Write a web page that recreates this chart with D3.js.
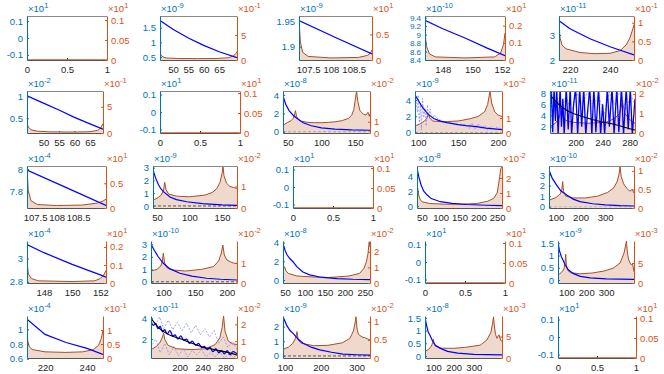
<!DOCTYPE html>
<html>
<head>
<meta charset="utf-8">
<script src="https://cdn.jsdelivr.net/npm/d3@7"></script>
<style>
  body { margin: 0; background: #fff; }
  svg { display: block; }
</style>
</head>
<body>
<svg id="chart"></svg>
<script>
// ---- data (values in tick-label units) ----

// x ticks, one list per panel (row by row)
const xTicks = [
  [0, 0.5, 1], [50, 55, 60, 65], [107.5, 108, 108.5], [148, 150, 152], [220, 240],
  [50, 55, 60, 65], [0, 0.5, 1], [50, 100, 150], [100, 150, 200], [200, 240, 280],
  [107.5, 108, 108.5], [50, 100, 150], [0, 0.5, 1], [50, 100, 150, 200, 250], [100, 200, 300],
  [148, 150, 152], [100, 150, 200], [50, 100, 150, 200, 250], [0, 0.5, 1], [100, 200, 300],
  [220, 240], [200, 240, 280], [100, 200, 300], [100, 200, 300], [0, 0.5, 1],
];
const xDomains = [
  [0, 1], [45.8, 70.8], [107.3, 108.9], [146.8, 152.2], [214.5, 252],
  [44.7, 69.2], [0, 1], [43, 172], [96, 205], [162, 288],
  [107.31, 109.15], [44, 173], [0, 1], [37, 263], [72, 417],
  [146.8, 152.4], [80.6, 216], [45, 263], [0, 1], [58, 440],
  [211.4, 247.6], [150, 300], [95, 337], [58, 440], [0, 1],
];

// left (blue) axis
const leftTicks = [
  [-0.1, 0, 0.1], [0.5, 1, 1.5], [1.9, 1.95], [8.4, 8.6, 8.8, 9, 9.2, 9.4], [2, 3],
  [0.5, 1], [-0.1, 0, 0.1], [0, 2, 4], [0, 2, 4], [2, 4, 6, 8],
  [7.8, 8], [0, 1, 2, 3], [-0.1, 0, 0.1], [0, 2, 4], [0, 1, 2, 3],
  [2.8, 3], [0, 1, 2, 3], [0, 2, 4], [-0.1, 0, 0.1], [0, 0.5, 1, 1.5],
  [0.6, 0.8, 1], [2, 4], [0, 1, 2], [0, 0.5, 1, 1.5], [-0.1, 0, 0.1],
];
const leftDomains = [
  [-0.13, 0.13], [0.4, 1.9], [1.874, 1.96], [8.4, 9.44], [2, 3.76],
  [0.16, 1.13], [-0.12, 0.12], [-0.14, 4.44], [-0.05, 5.1], [0.85, 8.4],
  [7.657, 8.026], [-0.16, 3.13], [-0.12, 0.12], [-0.27, 5.4], [-0.12, 3.85],
  [2.79, 3.15], [-0.1, 3.26], [-0.32, 4.18], [-0.12, 0.12], [-0.12, 1.59],
  [0.61, 1.18], [0.2, 4.2], [-0.14, 2.72], [-0.08, 1.58], [-0.12, 0.12],
];
const leftExp = [1, -9, -9, -10, -11, -2, 1, -8, -9, -11, -4, -9, 1, -8, -10, -4, -10, -8, 1, -9, -4, -11, -9, -8, 1];

// right (orange) axis
const rightTicks = [
  [0, 0.05, 0.1], [0, 5], [0, 0.5], [0, 0.1, 0.2], [0, 0.5, 1],
  [0, 5], [0, 0.05, 0.1], [0, 1], [0, 1], [0, 1, 2],
  [0, 0.5], [0, 1], [0, 0.05, 0.1], [0, 1, 2], [0, 0.5, 1],
  [0, 0.1, 0.2], [0, 1], [0, 1, 2], [0, 0.05, 0.1], [0, 5],
  [0, 0.5, 1], [0, 1, 2], [0, 0.5, 1], [0, 5], [0, 0.05, 0.1],
];
const rightDomains = [
  [0, 0.11], [0, 8.8], [0, 0.86], [0, 0.256], [0, 1.18],
  [0, 8], [0, 0.105], [0, 3.75], [0, 2.8], [0, 2.15],
  [0, 0.85], [0, 1.95], [0, 0.105], [0, 2.8], [0, 1.13],
  [0, 0.233], [0, 2.1], [0, 2.7], [0, 0.105], [0, 10.5],
  [0, 1.5], [0, 2.5], [0, 1.16], [0, 9.8], [0, 0.105],
];
const rightExp = [1, -1, 1, 1, -1, -1, 1, -2, -2, -2, 1, -2, 1, -2, -2, 1, -2, -2, 1, -3, -1, -2, -2, -3, 1];

// curves: [x, value]
const p2Blue = [[45.8, 1.75], [50, 1.45], [55, 1.15], [60, 0.9], [65, 0.68], [70.8, 0.48]];
const p2Area = [[45.8, 1.4], [46.2, 0.9], [47, 0.55], [48, 0.4], [52, 0.3], [58, 0.28], [64, 0.3], [68, 0.45], [69.6, 0.8], [70.4, 1.3], [70.8, 1.7]];
const p3Blue = [[107.3, 1.951], [108.1, 1.918], [108.9, 1.886]];
const p3Area = [[107.3, 0.8], [107.33, 0.35], [107.38, 0.15], [107.5, 0.07], [108, 0.04], [108.6, 0.05], [108.8, 0.09], [108.87, 0.14], [108.9, 0.2]];
const p4Blue = [[146.8, 9.34], [148, 9.14], [149.5, 8.92], [151, 8.68], [152.2, 8.5]];
const p4Area = [[146.8, 0.165], [146.9, 0.08], [147.1, 0.035], [147.5, 0.018], [149.5, 0.012], [151.5, 0.018], [151.9, 0.04], [152.1, 0.09], [152.2, 0.157]];
const p5Blue = [[214.5, 3.57], [220, 3.25], [230, 2.85], [240, 2.53], [252, 2.2]];
const p5Area = [[214.5, 1.0], [215, 0.6], [216, 0.4], [218, 0.3], [225, 0.2], [232, 0.17], [240, 0.18], [245, 0.25], [248, 0.4], [250, 0.6], [251.5, 0.85], [252, 0.95]];

const p6Blue = [[44.7, 1.02], [50, 0.85], [55, 0.69], [60, 0.52], [65, 0.37], [69.2, 0.25]];
const p6Area = [[44.7, 1.8], [45.2, 1.1], [46, 0.6], [48, 0.35], [52, 0.22], [60, 0.18], [65, 0.25], [67.5, 0.5], [68.5, 1.0], [69.2, 1.8]];
const p8Blue = [[43, 3.9], [47, 3.0], [52, 2.3], [58, 1.8], [63, 1.5], [73, 0.97], [85, 0.65], [100, 0.42], [120, 0.28], [145, 0.2], [172, 0.16]];
const p8Area = [[43, 0.7], [50, 0.95], [55, 1.1], [58, 1.3], [60, 1.6], [61.5, 2.0], [63, 1.5], [66, 1.2], [70, 1.05], [80, 0.95], [90, 0.92], [100, 0.92], [110, 0.95], [120, 1.0], [130, 1.1], [140, 1.3], [145, 1.6], [148, 2.1], [150, 2.9], [152, 3.75], [154, 2.8], [157, 2.0], [162, 1.7], [166, 1.6], [169, 1.85], [171, 1.5], [172, 1.7]];
const p9Blue = [[96, 4.6], [100, 4.0], [104, 3.3], [108, 2.8], [112, 2.3], [115, 2.05], [120, 1.7], [128, 1.4], [136, 1.23], [150, 0.98], [160, 0.86], [173, 0.74], [185, 0.55], [195, 0.45], [205, 0.36]];
const p9Faint = [[97, 4.2], [99, 2.5], [100, 4.6], [101.5, 1.2], [103, 3.6], [104, 0.3], [105.5, 4.2], [107, 1.8], [108.5, 3.0], [110, 0.8], [111.5, 3.4], [113, 2.0], [115, 2.9], [117, 1.6], [120, 2.2], [125, 1.6], [135, 1.3], [150, 1.0], [160, 0.9], [164, 0.5], [167, 1.2], [171, 0.4], [175, 1.1], [179, 0.5], [183, 0.9], [187, 0.3], [191, 0.8], [195, 0.4], [199, 0.7], [205, 0.4]];
const p9Area = [[96, 0.47], [102, 0.6], [108, 0.8], [111, 1.0], [112.7, 1.3], [114.5, 1.0], [118, 0.8], [130, 0.75], [150, 0.8], [165, 0.95], [175, 1.1], [183, 1.4], [187, 1.9], [190, 2.8], [192, 2.0], [196, 1.4], [200, 1.2], [205, 1.1]];
const p10Blue = [[162, 4], [164, 9], [166, 1], [168, 9], [170, 3], [172, 9], [174, 0.5], [177, 9], [179, 2], [181, 7], [183, 0.5], [186, 9], [189, 1.5], [192, 9], [194, 0.5], [197, 6], [200, 9], [203, 0.5], [206, 9], [209, 2], [212, 9], [215, 0.5], [218, 5], [221, 9], [224, 0.5], [227, 9], [230, 1], [234, 9], [237, 0.5], [240, 6], [243, 0.5], [247, 9], [250, 2], [254, 9], [257, 0.5], [261, 9], [264, 1], [268, 9], [271, 0.5], [275, 9], [278, 1.5], [281, 9], [284, 0.5], [288, 7]];
const p10Faint = [[162, 6], [170, 8.4], [178, 5], [186, 7.5], [194, 4.5], [202, 8], [210, 6], [218, 8.4], [226, 5.5], [234, 7.8], [242, 4], [250, 8.2], [258, 6], [266, 8.4], [274, 5], [282, 7.6], [288, 6]];
const p10Trend = [[162, 7.68], [175, 6.0], [190, 4.7], [211, 3.78], [235, 2.95], [261, 2.29], [275, 1.8], [288, 1.39]];
const p10Area = [[162, 0.32], [170, 0.5], [175, 0.75], [177.5, 1.0], [179.3, 1.26], [181, 0.9], [185, 0.65], [195, 0.55], [220, 0.5], [245, 0.55], [258, 0.75], [265, 1.0], [269.4, 1.6], [273, 1.0], [280.6, 0.67], [288, 0.5]];

const p11Blue = [[107.31, 7.99], [108.2, 7.84], [109.15, 7.68]];
const p11Area = [[107.31, 0.8], [107.34, 0.35], [107.4, 0.15], [107.55, 0.07], [108, 0.05], [108.6, 0.06], [108.95, 0.1], [109.08, 0.14], [109.15, 0.18]];
const p12Blue = [[44, 2.82], [48, 2.2], [52, 1.7], [56, 1.35], [60, 1.12], [70, 0.7], [80, 0.5], [96, 0.33], [120, 0.18], [150, 0.08], [173, 0.05]];
const p12Area = [[44, 0.37], [50, 0.45], [56, 0.58], [60, 0.8], [62, 1.19], [64, 0.85], [68, 0.65], [80, 0.55], [100, 0.52], [124, 0.6], [135, 0.72], [142, 0.9], [147, 1.2], [150, 1.6], [151.5, 1.95], [153, 1.5], [157, 1.15], [162, 1.0], [168, 0.95], [173, 0.91]];
const p14Blue = [[37, 5.09], [42, 3.9], [48, 2.8], [55, 2.0], [64, 1.48], [75, 1.0], [99, 0.58], [130, 0.35], [170, 0.2], [220, 0.1], [263, 0.05]];
const p14Area = [[37, 1.09], [39, 1.3], [42, 0.8], [46, 0.55], [50, 0.42], [70, 0.3], [117, 0.25], [160, 0.26], [196, 0.3], [225, 0.45], [241, 0.65], [250, 1.0], [254, 1.6], [257, 2.1], [259.5, 2.6], [263, 2.8]];
const p15Blue = [[72, 3.47], [85, 2.7], [103, 2.05], [120, 1.5], [144, 1.11], [170, 0.72], [198, 0.48], [250, 0.28], [300, 0.18], [360, 0.1], [417, 0.07]];
const p15Area = [[72, 0.21], [100, 0.28], [118, 0.38], [124, 0.5], [127.6, 0.71], [131, 0.45], [140, 0.32], [170, 0.27], [220, 0.27], [270, 0.32], [310, 0.42], [333, 0.53], [348, 0.7], [356, 0.9], [360.5, 1.11], [365, 0.85], [375, 0.65], [388, 0.53], [400, 0.45], [410, 0.5], [417, 0.4]];

const p16Blue = [[146.8, 3.12], [148, 3.05], [150, 2.95], [152, 2.86], [152.4, 2.84]];
const p16Area = [[146.8, 0.115], [146.9, 0.05], [147.1, 0.025], [147.6, 0.012], [150, 0.008], [151.6, 0.012], [152, 0.025], [152.25, 0.045], [152.4, 0.07]];
const p17Blue = [[80.6, 3.0], [86, 2.5], [92, 2.0], [100, 1.48], [110, 1.05], [126, 0.68], [145, 0.45], [168, 0.28], [190, 0.2], [216, 0.14]];
const p17Area = [[80.6, 0.6], [90, 0.68], [96, 0.85], [98.5, 1.1], [100, 1.49], [102, 1.0], [106, 0.75], [115, 0.65], [135, 0.6], [160, 0.68], [179, 0.82], [187, 1.1], [191, 1.45], [193.7, 1.9], [196, 1.4], [200, 1.15], [205, 1.07], [210, 1.0], [216, 0.98]];
const p18Blue = [[45, 3.93], [50, 3.2], [55, 2.7], [62, 2.3], [70, 1.96], [80, 1.4], [95, 0.85], [112, 0.55], [140, 0.3], [180, 0.15], [220, 0.08], [263, 0.05]];
const p18Area = [[45, 0.8], [47, 1.0], [49, 1.05], [52, 0.8], [58, 0.62], [80, 0.45], [153, 0.34], [210, 0.45], [237, 0.62], [248, 0.95], [254, 1.37], [258, 1.9], [261, 2.65], [263, 2.3]];
const p20Blue = [[58, 1.56], [65, 1.2], [75, 0.95], [83, 0.82], [95, 0.6], [110, 0.42], [133, 0.27], [170, 0.15], [220, 0.09], [300, 0.05], [440, 0.03]];
const p20Area = [[58, 2.0], [75, 2.6], [88, 3.5], [93, 5], [96.7, 7.2], [100, 4.5], [106, 3.2], [120, 2.6], [167, 2.3], [230, 2.5], [290, 3.0], [335, 3.7], [370, 5], [390, 7.5], [398, 9.5], [402, 10.5], [406, 8], [412, 6], [420, 5], [427, 4.5], [433, 4.8], [440, 2.8]];

const p21Blue = [[211.4, 1.135], [220, 0.93], [230, 0.82], [240, 0.74], [247.6, 0.66]];
const p21Area = [[211.4, 1.07], [211.8, 0.6], [212.5, 0.4], [214, 0.3], [220, 0.22], [230, 0.2], [238, 0.22], [243, 0.3], [245.5, 0.45], [246.8, 0.7], [247.6, 1.0]];
const p22Blue = [[150, 3.7], [154, 3.3], [158, 3.5], [162, 3.0], [166, 3.2], [170, 2.7], [174, 2.9], [178, 2.5], [183, 2.8], [188, 2.3], [192, 2.4], [197, 2.0], [202, 2.3], [207, 1.9], [212, 2.0], [217, 1.6], [222, 1.8], [228, 1.4], [233, 1.6], [238, 1.2], [243, 1.3], [248, 1.0], [253, 1.2], [258, 0.8], [263, 1.1], [268, 0.7], [273, 0.9], [278, 0.6], [283, 0.9], [288, 0.5], [293, 0.8], [300, 0.6]];
const p22Faint1 = [[150, 4.0], [158, 3.4], [165, 4.1], [172, 3.0], [180, 3.8], [188, 2.9], [196, 3.6], [204, 2.8], [212, 3.5], [220, 2.6], [228, 3.3], [236, 2.4], [244, 3.0], [252, 2.2], [260, 2.8], [268, 1.6], [276, 2.2], [284, 1.2], [292, 1.8], [300, 1.0]];
const p22Faint2 = [[150, 1.2], [158, 2.0], [166, 0.7], [174, 1.6], [182, 0.5], [190, 1.3], [198, 0.4], [206, 1.1], [214, 0.3], [222, 0.9], [230, 0.5], [238, 1.0], [246, 0.3], [254, 0.7], [262, 0.3], [270, 0.8], [278, 0.2], [286, 0.6], [294, 0.3], [300, 0.5]];
const p22Trend = [[150, 3.98], [165, 3.0], [180, 2.45], [200, 2.05], [220, 1.62], [240, 1.25], [260, 1.0], [280, 0.78], [300, 0.49]];
const p22Area = [[150, 0.5], [160, 0.7], [166, 0.95], [170, 1.25], [172, 1.48], [174, 1.1], [180, 0.75], [195, 0.55], [220, 0.5], [245, 0.55], [262, 0.8], [270, 1.2], [274, 1.8], [276.6, 2.5], [279, 1.6], [285, 1.0], [292, 0.85], [300, 0.8]];
const p23Blue = [[95, 2.67], [105, 2.1], [114, 1.75], [123, 1.54], [137, 1.15], [151, 0.86], [175, 0.58], [197, 0.41], [230, 0.25], [262, 0.13], [300, 0.08], [337, 0.05]];
const p23Area = [[95, 0.24], [110, 0.3], [122, 0.4], [130, 0.55], [134, 0.73], [137, 0.5], [145, 0.41], [180, 0.34], [220, 0.35], [260, 0.42], [281, 0.54], [291, 0.75], [296, 1.0], [298, 1.14], [301, 0.8], [305, 0.65], [315, 0.58], [325, 0.55], [337, 0.5]];
const p24Blue = [[58, 1.53], [66, 1.2], [74, 0.95], [82, 0.83], [95, 0.6], [110, 0.42], [132, 0.31], [170, 0.18], [220, 0.11], [300, 0.06], [440, 0.04]];
const p24Area = [[58, 1.5], [75, 2.0], [90, 2.8], [96, 3.6], [99.4, 4.36], [103, 3.3], [110, 2.7], [140, 2.3], [200, 2.26], [260, 2.5], [332, 3.0], [365, 4.2], [385, 6], [393, 8], [398, 9.6], [402, 7.5], [408, 5.5], [415, 4.6], [425, 5.4], [433, 4.2], [440, 3.8]];

// which curve goes in which panel (null = empty axes)
const blueLines = [
  null, p2Blue, p3Blue, p4Blue, p5Blue,
  p6Blue, null, p8Blue, p9Blue, p10Blue,
  p11Blue, p12Blue, null, p14Blue, p15Blue,
  p16Blue, p17Blue, p18Blue, null, p20Blue,
  p21Blue, p22Blue, p23Blue, p24Blue, null,
];
const areaLines = [
  null, p2Area, p3Area, p4Area, p5Area,
  p6Area, null, p8Area, p9Area, p10Area,
  p11Area, p12Area, null, p14Area, p15Area,
  p16Area, p17Area, p18Area, null, p20Area,
  p21Area, p22Area, p23Area, p24Area, null,
];
const trendLines = { 9: p10Trend, 21: p22Trend };
const faintLines = { 8: [p9Faint], 9: [p10Faint], 21: [p22Faint1, p22Faint2] };

// ---- layout and styles ----
const width = 664;
const height = 374;
// plot box of each panel: [left, top, width, height]
const boxes = [
  [27, 16, 80, 44], [160, 16, 77, 44], [299, 16, 73, 44], [425, 16, 80, 44], [559, 16, 75, 44],
  [27, 91, 76, 42], [160, 91, 80, 42], [283, 91, 87, 42], [415, 91, 87, 42], [550, 91, 85, 42],
  [27, 166, 79, 42], [153, 166, 84, 42], [293, 166, 80, 42], [417, 166, 85, 42], [549, 166, 85, 42],
  [27, 241, 79, 42], [151, 241, 86, 42], [283, 241, 87, 42], [425, 241, 80, 42], [558, 241, 76, 42],
  [27, 316, 76, 42], [151, 316, 86, 42], [283, 316, 87, 42], [425, 316, 77, 42], [558, 316, 78, 42],
];
const zeroLine = { 7: '#a8a8a8', 8: '#a8a8a8', 11: '#555', 14: '#bdbdbd', 16: '#555', 22: '#555' };
const blueWidth = { 9: 1.3, 21: 1.3 };
const smoothBlue = { 21: true };
// the crowded 8.4 ... 9.4 axis is set a little smaller
const leftFont = { 3: 8 };

const BLUE = '#0072BD';
const ORANGE = '#D95319';
const INK = '#262626';
const FONT = "'Liberation Sans', Arial, Helvetica, sans-serif";
const TICK_SIZE = 9.5;

const fmt = d => String(+d.toFixed(4));

const svg = d3.select('#chart').attr('width', width).attr('height', height);

boxes.forEach((b, i) => {
  const [bx, by, bw, bh] = b;
  const g = svg.append('g').attr('transform', `translate(${bx},${by})`);

  const x = d3.scaleLinear().domain(xDomains[i]).range([0, bw]);
  const yL = d3.scaleLinear().domain(leftDomains[i]).range([bh, 0]);
  const yR = d3.scaleLinear().domain(rightDomains[i]).range([bh, 0]);

  const lineL = d3.line().x(d => x(d[0])).y(d => yL(d[1]));
  const lineR = d3.line().x(d => x(d[0])).y(d => yR(d[1]));

  // x axis first so the filled area sits over it
  const xa = g.append('g')
    .attr('transform', `translate(0,${bh})`)
    .call(d3.axisBottom(x).tickValues(xTicks[i]).tickFormat(fmt)
      .tickSizeInner(-2).tickSizeOuter(0).tickPadding(6));
  xa.attr('font-family', FONT).attr('font-size', TICK_SIZE);
  xa.select('.domain').attr('stroke', '#555');
  xa.selectAll('.tick line').attr('stroke', INK);
  xa.selectAll('text').attr('fill', INK);

  g.append('clipPath').attr('id', `clip${i}`)
    .append('rect').attr('width', bw).attr('height', bh);
  const plot = g.append('g').attr('clip-path', `url(#clip${i})`);

  const area = areaLines[i];
  if (area) {
    plot.append('path')
      .datum(area)
      .attr('fill', '#efd9cc')
      .attr('d', d3.area().x(d => x(d[0])).y0(yR(0)).y1(d => yR(d[1])));
    plot.append('path')
      .datum(area)
      .attr('fill', 'none')
      .attr('stroke', '#a84f26')
      .attr('stroke-width', 1)
      .attr('d', lineR);
  } else {
    // empty axes: only the right-axis baseline shows
    plot.append('path')
      .datum(xDomains[i].map(v => [v, 0]))
      .attr('fill', 'none')
      .attr('stroke', ORANGE)
      .attr('stroke-width', 1.5)
      .attr('d', lineR);
  }

  if (zeroLine[i]) {
    plot.append('path')
      .datum(xDomains[i].map(v => [v, 0]))
      .attr('fill', 'none')
      .attr('stroke', zeroLine[i])
      .attr('stroke-dasharray', '3,2')
      .attr('d', lineL);
  }

  (faintLines[i] || []).forEach(f => {
    plot.append('path')
      .datum(f)
      .attr('fill', 'none')
      .attr('stroke', '#8c8cff')
      .attr('stroke-width', 0.8)
      .attr('stroke-dasharray', '2,1.5')
      .attr('d', lineL);
  });

  if (blueLines[i]) {
    const gen = smoothBlue[i] ? lineL.curve(d3.curveCatmullRom) : lineL;
    plot.append('path')
      .datum(blueLines[i])
      .attr('fill', 'none')
      .attr('stroke', '#0000ff')
      .attr('stroke-width', blueWidth[i] || 1.2)
      .attr('d', gen);
  }

  if (trendLines[i]) {
    plot.append('path')
      .datum(trendLines[i])
      .attr('fill', 'none')
      .attr('stroke', '#000')
      .attr('stroke-width', 1.1)
      .attr('d', lineL.curve(d3.curveMonotoneX));
  }

  // top edge of the box only shows on the first three rows
  if (i < 15) {
    g.append('line')
      .attr('x1', 0).attr('x2', bw)
      .attr('y1', 0.5).attr('y2', 0.5)
      .attr('stroke', '#8a8a8a');
  }

  // left axis
  const la = g.append('g')
    .call(d3.axisLeft(yL).tickValues(leftTicks[i]).tickFormat(fmt)
      .tickSizeInner(-2).tickSizeOuter(0).tickPadding(4));
  la.attr('font-family', FONT).attr('font-size', leftFont[i] || TICK_SIZE);
  la.select('.domain').attr('stroke', BLUE);
  la.selectAll('.tick line').attr('stroke', BLUE);
  la.selectAll('text').attr('fill', BLUE);

  // right axis
  const ra = g.append('g')
    .attr('transform', `translate(${bw},0)`)
    .call(d3.axisRight(yR).tickValues(rightTicks[i]).tickFormat(fmt)
      .tickSizeInner(-2).tickSizeOuter(0).tickPadding(4));
  ra.attr('font-family', FONT).attr('font-size', TICK_SIZE);
  ra.select('.domain').attr('stroke', ORANGE);
  ra.selectAll('.tick line').attr('stroke', ORANGE);
  ra.selectAll('text').attr('fill', ORANGE);

  // exponent labels
  const expo = (xPos, value, color) => {
    const t = g.append('text')
      .attr('x', xPos)
      .attr('y', -4)
      .attr('font-family', FONT)
      .attr('font-size', 9.5)
      .attr('fill', color);
    t.append('tspan').text('\u00d710');
    t.append('tspan').attr('dy', -4).attr('font-size', 7.5).text(value);
  };
  expo(1, leftExp[i], BLUE);
  expo(bw + 1, rightExp[i], ORANGE);
});
</script>
</body>
</html>
